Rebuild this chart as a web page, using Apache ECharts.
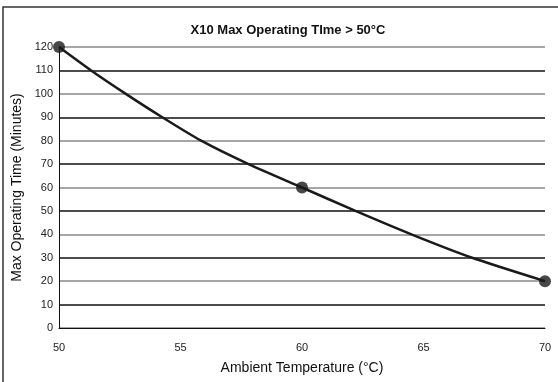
<!DOCTYPE html>
<html>
<head>
<meta charset="utf-8">
<script src="https://cdn.jsdelivr.net/npm/echarts@6/dist/echarts.min.js"></script>
<style>
  html, body { margin: 0; padding: 0; background: #fff; }
  #main { width: 558px; height: 382px; }
</style>
</head>
<body>
<div id="main"></div>
<script>
// curve (temperature °C -> minutes)
var temps = [50, 51.32, 52.75, 54.25, 55.85, 57.8, 60, 62.2, 64.5, 67, 70];
var minutes = [120, 110, 100, 90, 80, 70, 60, 50, 40, 30, 20];
// points that carry a marker
var markTemps = [50, 60, 70];
var markMinutes = [120, 60, 20];

var curve = temps.map(function (t, i) { return [t, minutes[i]]; });
var marks = markTemps.map(function (t, i) { return [t, markMinutes[i]]; });

var font = "'Liberation Sans', Arial, sans-serif";
var chart = echarts.init(document.getElementById('main'));
chart.setOption({
  animation: false,
  textStyle: { fontFamily: font },
  title: {
    text: 'X10 Max Operating TIme > 50°C',
    left: 283,
    textAlign: 'center',
    top: 19,
    textStyle: { fontSize: 13, fontWeight: 'bold', color: '#111', fontFamily: font }
  },
  grid: { left: 59, right: 13, top: 47, bottom: 54 },
  xAxis: {
    type: 'value',
    min: 50,
    max: 70,
    interval: 5,
    name: 'Ambient Temperature (°C)',
    nameLocation: 'middle',
    nameGap: 33,
    nameTextStyle: { fontSize: 14, color: '#111' },
    axisLine: { lineStyle: { color: '#111', width: 1 } },
    axisTick: { show: false },
    splitLine: { show: false },
    axisLabel: { fontSize: 11, color: '#222', margin: 14 }
  },
  yAxis: {
    type: 'value',
    min: 0,
    max: 120,
    interval: 10,
    name: 'Max Operating Time (Minutes)',
    nameLocation: 'middle',
    nameGap: 28,
    nameTextStyle: { fontSize: 14, color: '#111' },
    axisLine: { show: true, lineStyle: { color: '#111', width: 1 } },
    axisTick: { show: false },
    axisLabel: { fontSize: 11, color: '#222', margin: 6 },
    splitLine: { show: true, lineStyle: { color: ['#888', '#111'], width: 1.5 } }
  },
  graphic: [{
    type: 'polyline',
    shape: { points: [[3, 390], [3, 7], [570, 7]] },
    style: { stroke: '#333', lineWidth: 1.5, fill: null },
    silent: true
  }],
  series: [
    {
      type: 'line',
      data: curve,
      smooth: 0.2,
      showSymbol: false,
      lineStyle: { color: '#1a1a1a', width: 2.5 }
    },
    {
      type: 'scatter',
      data: marks,
      symbolSize: 12,
      itemStyle: { color: '#1a1a1a' }
    }
  ]
});
</script>
</body>
</html>
